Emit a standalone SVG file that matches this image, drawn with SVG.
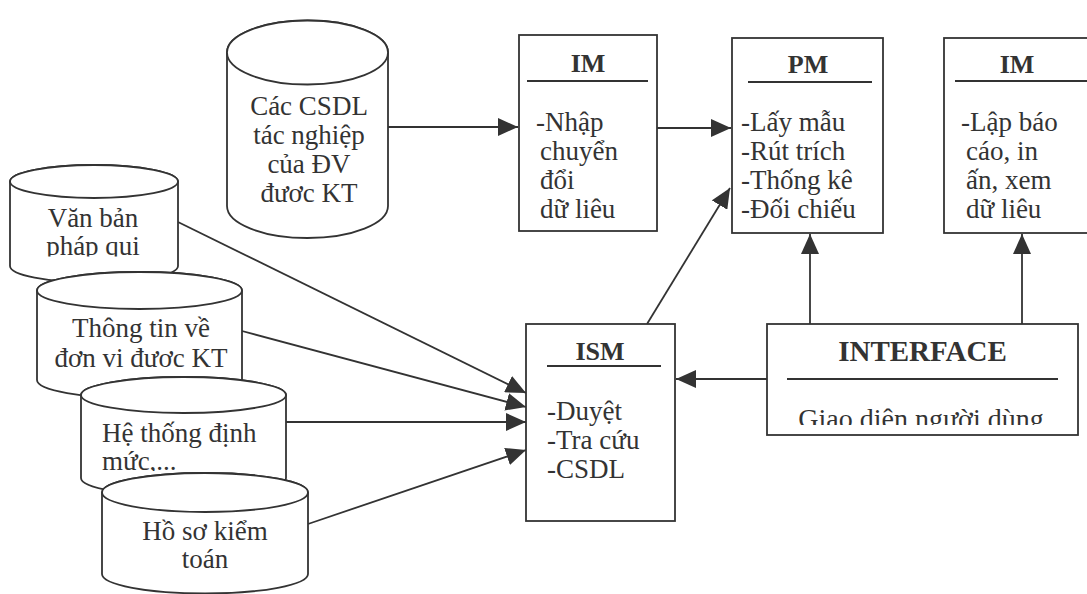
<svg xmlns="http://www.w3.org/2000/svg" width="1087" height="594" viewBox="0 0 1087 594">
<defs>
<style>
.box{fill:#fff;stroke:#333;stroke-width:1.8}
.ln{fill:none;stroke:#333;stroke-width:1.8}
.t{font-family:"Liberation Serif","Times New Roman",serif;font-size:27px;fill:#333}
.h{font-weight:bold;text-anchor:middle;font-size:26px}
.c{text-anchor:middle}
</style>
<marker id="ah" viewBox="0 0 20 18" refX="20" refY="9" markerWidth="20" markerHeight="18" orient="auto" markerUnits="userSpaceOnUse">
<path d="M0,0 L20,9 L0,18 Z" fill="#333"/>
</marker>
<clipPath id="cVB"><rect x="0" y="0" width="200" height="256.5"/></clipPath>
<clipPath id="cTT"><rect x="0" y="0" width="260" height="369"/></clipPath>
<clipPath id="cHT"><rect x="0" y="0" width="300" height="471"/></clipPath>
<clipPath id="cGD"><rect x="700" y="0" width="387" height="425"/></clipPath>
</defs>
<rect width="1087" height="594" fill="#fff"/>

<g id="connectors" class="ln" marker-end="url(#ah)">
<line x1="388" y1="127" x2="518" y2="127"/>
<line x1="657" y1="128" x2="731" y2="128"/>
<line x1="647" y1="324" x2="730" y2="188"/>
<line x1="810" y1="324" x2="810" y2="234"/>
<line x1="1022" y1="324" x2="1022" y2="234"/>
<line x1="767" y1="379" x2="676" y2="379"/>
<line x1="178" y1="222" x2="526" y2="393"/>
<line x1="242" y1="331" x2="526" y2="407"/>
<line x1="286" y1="422" x2="526" y2="422"/>
<line x1="308" y1="524" x2="526" y2="450"/>
</g>

<g id="db-csdl">
<path class="box" d="M227,52.5 V206 A80.5,32 0 0 0 388,206 V52.5 A80.5,32 0 0 0 227,52.5 Z"/>
<ellipse class="box" cx="307.5" cy="52.5" rx="80.5" ry="32"/>
<text class="t c" x="309" y="115">Các CSDL</text>
<text class="t c" x="309" y="144">tác nghiệp</text>
<text class="t c" x="309" y="173">của ĐV</text>
<text class="t c" x="309" y="202">đươc KT</text>
</g>

<g id="db-vanban">
<path class="box" d="M10,181.5 V266 A84,16.5 0 0 0 178,266 V181.5 A84,16.5 0 0 0 10,181.5 Z"/>
<ellipse class="box" cx="94" cy="181.5" rx="84" ry="16.5"/>
<g clip-path="url(#cVB)">
<text class="t c" x="93" y="227">Văn bản</text>
<text class="t c" x="93" y="255">pháp qui</text>
</g>
</g>

<g id="db-thongtin">
<path class="box" d="M37,290.5 V380 A102.5,18.5 0 0 0 242,380 V290.5 A102.5,18.5 0 0 0 37,290.5 Z"/>
<ellipse class="box" cx="139.5" cy="290.5" rx="102.5" ry="18.5"/>
<g clip-path="url(#cTT)">
<text class="t c" x="141" y="337">Thông tin về</text>
<text class="t c" x="141" y="367">đơn vi đươc KT</text>
</g>
</g>

<g id="db-hethong">
<path class="box" d="M81,395 V478 A102.5,18 0 0 0 286,478 V395 A102.5,18 0 0 0 81,395 Z"/>
<ellipse class="box" cx="183.5" cy="395" rx="102.5" ry="18"/>
<g clip-path="url(#cHT)">
<text class="t" x="102" y="442">Hệ thống định</text>
<text class="t" x="102" y="470">mức,...</text>
</g>
</g>

<g id="db-hoso">
<path class="box" d="M102,492.5 V574 A103,19.5 0 0 0 308,574 V492.5 A103,19.5 0 0 0 102,492.5 Z"/>
<ellipse class="box" cx="205" cy="492.5" rx="103" ry="19.5"/>
<text class="t c" x="205" y="540">Hồ sơ kiểm</text>
<text class="t c" x="205" y="568">toán</text>
</g>

<g id="im1">
<rect class="box" x="519" y="35" width="138" height="196"/>
<text class="t h" x="588" y="72">IM</text>
<line class="ln" x1="527" y1="81" x2="648" y2="81"/>
<text class="t" x="536" y="131">-Nhập</text>
<text class="t" x="540" y="160">chuyển</text>
<text class="t" x="540" y="189">đổi</text>
<text class="t" x="540" y="218">dữ liêu</text>
</g>

<g id="pm">
<rect class="box" x="732" y="38" width="151" height="195"/>
<text class="t h" x="808" y="73">PM</text>
<line class="ln" x1="748" y1="82" x2="872" y2="82"/>
<text class="t" x="741" y="131">-Lấy mẫu</text>
<text class="t" x="741" y="160">-Rút trích</text>
<text class="t" x="741" y="189">-Thống kê</text>
<text class="t" x="741" y="218">-Đối chiếu</text>
</g>

<g id="im2">
<rect class="box" x="944" y="38" width="150" height="195"/>
<text class="t h" x="1017" y="73">IM</text>
<line class="ln" x1="955" y1="81" x2="1087" y2="81"/>
<text class="t" x="961" y="131">-Lập báo</text>
<text class="t" x="966" y="160">cáo, in</text>
<text class="t" x="966" y="189">ấn, xem</text>
<text class="t" x="966" y="218">dữ liêu</text>
</g>

<g id="ism">
<rect class="box" x="526" y="324" width="149" height="197"/>
<text class="t h" x="600" y="360">ISM</text>
<line class="ln" x1="547" y1="366" x2="661" y2="366"/>
<text class="t" x="547" y="420">-Duyệt</text>
<text class="t" x="547" y="449">-Tra cứu</text>
<text class="t" x="547" y="478">-CSDL</text>
</g>

<g id="interface">
<rect class="box" x="767" y="324" width="311" height="111"/>
<text class="t h" x="922.5" y="361" style="font-size:29px">INTERFACE</text>
<line class="ln" x1="787" y1="379" x2="1058" y2="379"/>
<g clip-path="url(#cGD)">
<text class="t c" x="921" y="428" style="font-size:28px">Giao diên người dùng</text>
</g>
</g>
</svg>
